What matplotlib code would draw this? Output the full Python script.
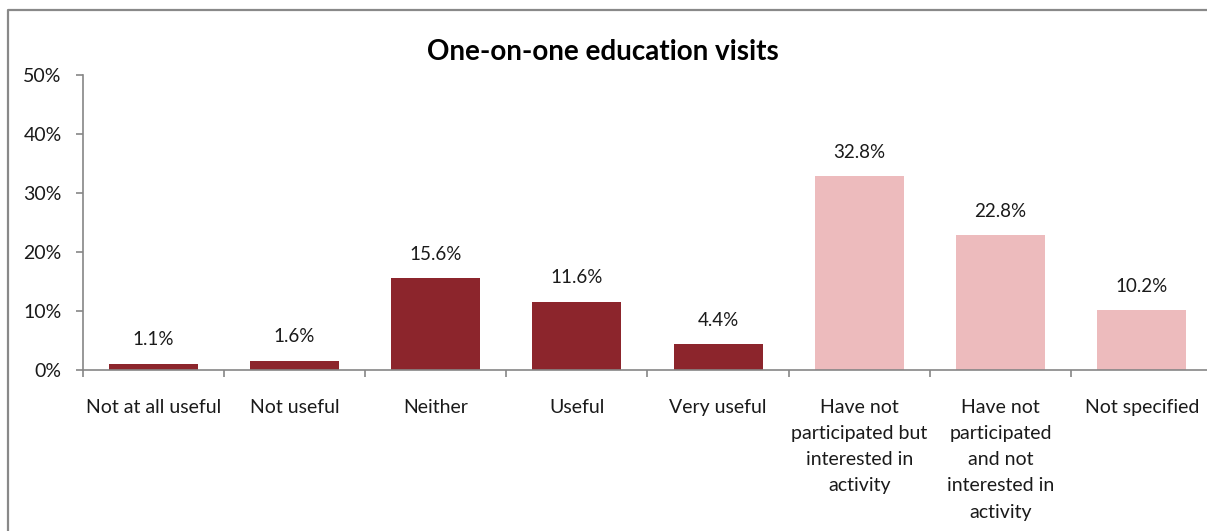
import matplotlib
matplotlib.use("Agg")
import matplotlib.pyplot as plt
from matplotlib.lines import Line2D

# Survey responses: one-on-one education visits
categories = [
    "Not at all useful",
    "Not useful",
    "Neither",
    "Useful",
    "Very useful",
    "Have not\nparticipated but\ninterested in\nactivity",
    "Have not\nparticipated\nand not\ninterested in\nactivity",
    "Not specified",
]
values = [1.1, 1.6, 15.6, 11.6, 4.4, 32.8, 22.8, 10.2]
participated = [True, True, True, True, True, False, False, False]
y_ticks = [0, 10, 20, 30, 40, 50]

DARK = "#8C252C"
LIGHT = "#EDBBBD"
AXIS = "#868686"
TEXT = "#1a1a1a"
FS = 14

plt.rcParams["font.family"] = ["Lato", "DejaVu Sans"]

W, H = 1207, 531
fig = plt.figure(figsize=(W / 100, H / 100), dpi=100)

# outer chart border: only left and top edges are inside the picture
bx, by = 8 / W, 1 - 9.5 / H
fig.add_artist(Line2D([bx, bx, 1.0], [0.0, by, by], transform=fig.transFigure,
                      color="#898989", linewidth=1.6))

left, right = 82.5 / W, 1212.5 / W
bottom, top = (H - 370) / H, (H - 75) / H
ax = fig.add_axes([left, bottom, right - left, top - bottom])

x = list(range(len(categories)))
colors = [DARK if p else LIGHT for p in participated]
ax.bar(x, values, width=0.63, color=colors)

for xi, v in zip(x, values):
    ax.annotate(f"{v:.1f}%", (xi, v), xytext=(0, 17), textcoords="offset points",
                ha="center", va="center", fontsize=FS - 0.5, color=TEXT)

ax.set_xlim(-0.5, len(categories) - 0.5)
ax.set_ylim(0, 50)
ax.set_yticks(y_ticks)
ax.set_yticklabels([f"{t}%" for t in y_ticks], fontsize=FS, color=TEXT)

ax.set_xticks(x)
ax.set_xticklabels(categories, fontsize=FS, color=TEXT, linespacing=1.65, va="top")
ax.set_xticks([i - 0.5 for i in range(len(categories) + 1)], minor=True)
ax.tick_params(axis="x", which="major", length=0, pad=21)
ax.tick_params(axis="x", which="minor", length=5, color=AXIS, width=1.2, direction="out")
ax.tick_params(axis="y", length=5, color=AXIS, width=1.2, pad=10)

for side in ["top", "right"]:
    ax.spines[side].set_visible(False)
for side in ["left", "bottom"]:
    ax.spines[side].set_color(AXIS)
    ax.spines[side].set_linewidth(1.2)

fig.text(603 / W, (H - 52) / H, "One-on-one education visits", ha="center", va="center",
         fontsize=20, fontweight="bold", color="#000000")

fig.savefig("out.png", dpi=100)
